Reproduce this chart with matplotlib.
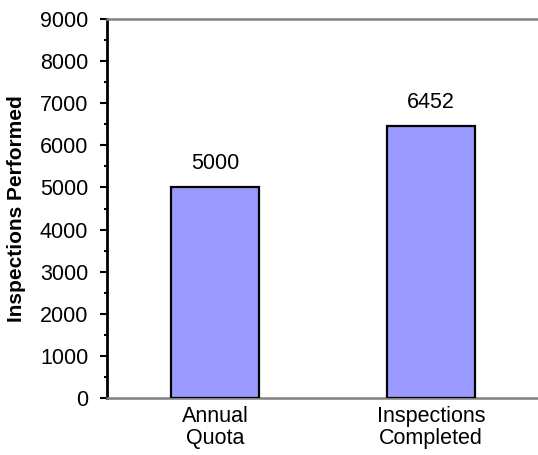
import matplotlib
matplotlib.use("Agg")
import matplotlib.pyplot as plt
from matplotlib.ticker import MultipleLocator

categories = ["Annual\nQuota", "Inspections\nCompleted"]
values = [5000, 6452]
ylabel = "Inspections Performed"

plt.rcParams["font.family"] = ["Liberation Sans", "DejaVu Sans"]

fig = plt.figure(figsize=(5.38, 4.55), dpi=100)
ax = fig.add_axes([107 / 538, 1 - 398 / 455, 432 / 538, 379 / 455])

x = list(range(len(categories)))
ax.bar(x, values, width=0.407, color="#9999FF", edgecolor="black", linewidth=1.6, zorder=3)

for xi, v in zip(x, values):
    ax.annotate(f"{v}", (xi, v), xytext=(0, 9.5), textcoords="offset points",
                ha="center", va="bottom", fontsize=15.5)

ax.set_xlim(-0.5, 1.5)
ax.set_ylim(0, 9000)
ax.yaxis.set_major_locator(MultipleLocator(1000))
ax.yaxis.set_minor_locator(MultipleLocator(500))
ax.set_xticks(x)
ax.set_xticklabels(categories, fontsize=15.5, linespacing=1.1)
ax.tick_params(axis="x", length=0, pad=5.5)
ax.tick_params(axis="y", which="major", length=5, width=1.5, direction="out", labelsize=15.5, pad=8.5)
ax.tick_params(axis="y", which="minor", length=2.5, width=1.5, direction="out")

ax.spines["left"].set_color("black")
ax.spines["left"].set_linewidth(2)
ax.spines["bottom"].set_color("#808080")
ax.spines["bottom"].set_linewidth(1.8)
ax.spines["top"].set_color("#808080")
ax.spines["top"].set_linewidth(1.8)
ax.spines["right"].set_visible(False)

ax.set_ylabel(ylabel, fontsize=15, fontweight="bold")
ax.yaxis.label.set_verticalalignment("center")
ax.yaxis.set_label_coords(-0.209, 0.5)

fig.savefig("out.png", dpi=100)
